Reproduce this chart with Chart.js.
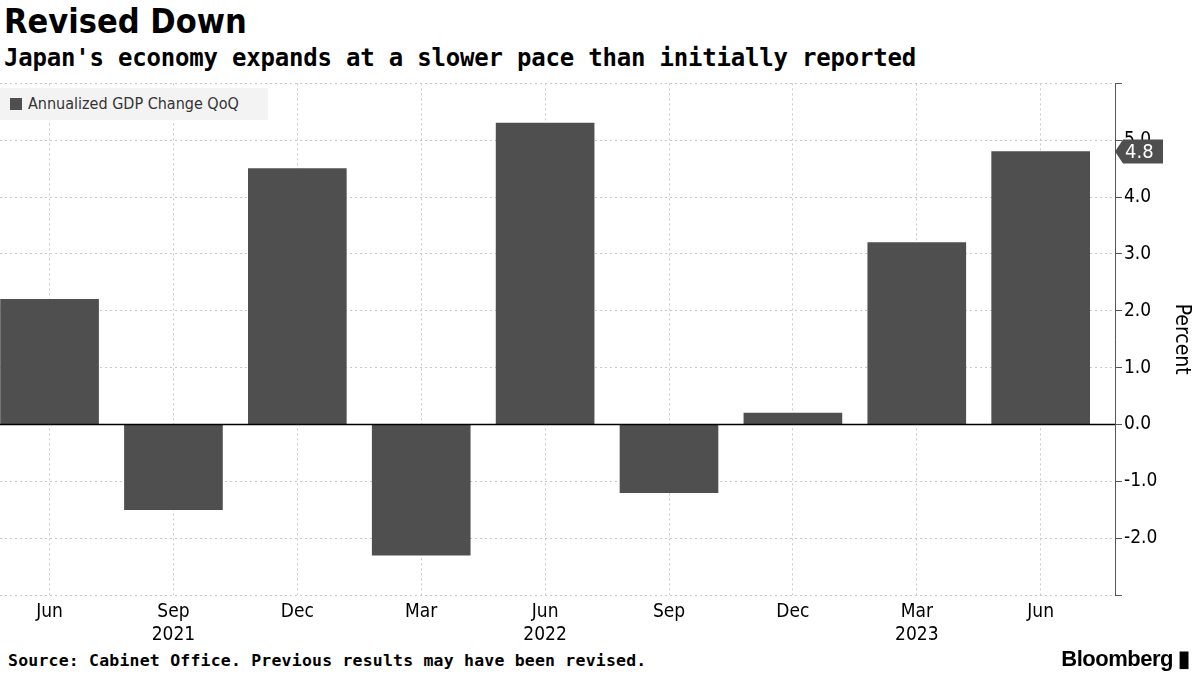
<!DOCTYPE html>
<html><head><meta charset="utf-8">
<script src="https://cdn.jsdelivr.net/npm/chart.js@4"></script>
<style>
body{margin:0;width:1200px;height:675px;background:#fff;font-family:"DejaVu Sans Condensed","DejaVu Sans",sans-serif;position:relative;overflow:hidden}
#t{position:absolute;left:4px;top:1px;font:bold 34px "DejaVu Sans Condensed","DejaVu Sans";color:#000}
#s{position:absolute;left:4px;top:44px;font:bold 24px "DejaVu Sans Mono","DejaVu Sans";color:#000;letter-spacing:-0.2px}
#lg{position:absolute;left:0;top:88px;width:268px;height:32px;background:#f3f3f3;font:16px "DejaVu Sans Condensed";color:#333;line-height:32px;z-index:2}
#lg span{display:inline-block;width:12px;height:12px;background:#4f4f4f;margin:0 6px 0 10px;vertical-align:-1px}
#f{position:absolute;left:8px;top:651px;font:bold 16.5px "DejaVu Sans Mono";color:#000;letter-spacing:0.2px}
#b{position:absolute;right:10px;top:646px;font:bold 22px "Liberation Sans";color:#000;letter-spacing:-0.5px}
#c{position:absolute;left:0;top:70px;width:1200px;height:580px}
</style></head><body>
<div id="t">Revised Down</div>
<div id="s">Japan's economy expands at a slower pace than initially reported</div>
<div id="lg"><span></span>Annualized GDP Change QoQ</div>
<div id="c"><canvas id="cv"></canvas></div>
<div id="f">Source: Cabinet Office. Previous results may have been revised.</div>
<div id="b">Bloomberg ▮</div>
<script>
const months=['Jun','Sep','Dec','Mar','Jun','Sep','Dec','Mar','Jun'];
const years=['','2021','','','2022','','','2023',''];
const values=[2.2,-1.5,4.5,-2.3,5.3,-1.2,0.2,3.2,4.8];
const yTicks=[-2,-1,0,1,2,3,4,5];
const F='"DejaVu Sans Condensed","DejaVu Sans"';
const lines={id:'lines',afterDatasetsDraw(c){const g=c.ctx,a=c.chartArea,y=c.scales.y;
g.save();g.strokeStyle='#000';g.lineWidth=1.5;g.beginPath();
const z=Math.round(y.getPixelForValue(0))+0.5;g.moveTo(a.left,z);g.lineTo(a.right,z);g.stroke();
g.lineWidth=1;g.strokeStyle='#555';g.beginPath();g.moveTo(a.right+0.5,a.top);g.lineTo(a.right+0.5,a.bottom);g.stroke();
const v=values[values.length-1],py=y.getPixelForValue(v),x0=a.right;
g.fillStyle='#4f4f4f';g.beginPath();g.moveTo(x0,py);g.lineTo(x0+8,py-12);g.lineTo(x0+48,py-12);g.lineTo(x0+48,py+12);g.lineTo(x0+8,py+12);g.closePath();g.fill();
g.fillStyle='#fff';g.font='20px '+F;g.textBaseline='middle';g.fillText(v.toFixed(1),x0+10,py+1);g.restore();}};
new Chart(document.getElementById('cv'),{type:'bar',
data:{datasets:[{data:values.map((v,i)=>({x:i,y:v})),backgroundColor:'#4f4f4f',barThickness:98}]},
options:{responsive:true,maintainAspectRatio:false,animation:false,layout:{padding:{top:5,left:0,right:0}},
plugins:{legend:{display:false},tooltip:{enabled:false}},
scales:{
x:{type:'linear',offset:false,min:-0.4,max:8.6,afterBuildTicks(s){s.ticks=months.map((m,i)=>({value:i}));},
 afterFit(s){s.height=55;},
 grid:{offset:false,color:'#c8c8c8',drawTicks:false},border:{display:false,dash:[2,3]},
 ticks:{padding:6,maxRotation:0,autoSkip:false,color:'#000',font:{family:F,size:19},callback:(v,i)=>[months[i],years[i]]}},
y:{position:'right',min:-3,max:6,afterBuildTicks(s){s.ticks=[-3,...yTicks,6].map(v=>({value:v}));},
 afterFit(s){s.width=85;},
 grid:{color:'#c8c8c8',tickLength:7,tickColor:'#555'},border:{display:false,dash:[2,3]},
 ticks:{padding:2,color:'#000',font:{family:F,size:19},callback:v=>yTicks.includes(v)?v.toFixed(1):''},
 title:{display:true,text:'Percent',color:'#000',font:{family:F,size:21},padding:{top:6,bottom:0}}}}},
plugins:[lines]});
</script></body></html>
